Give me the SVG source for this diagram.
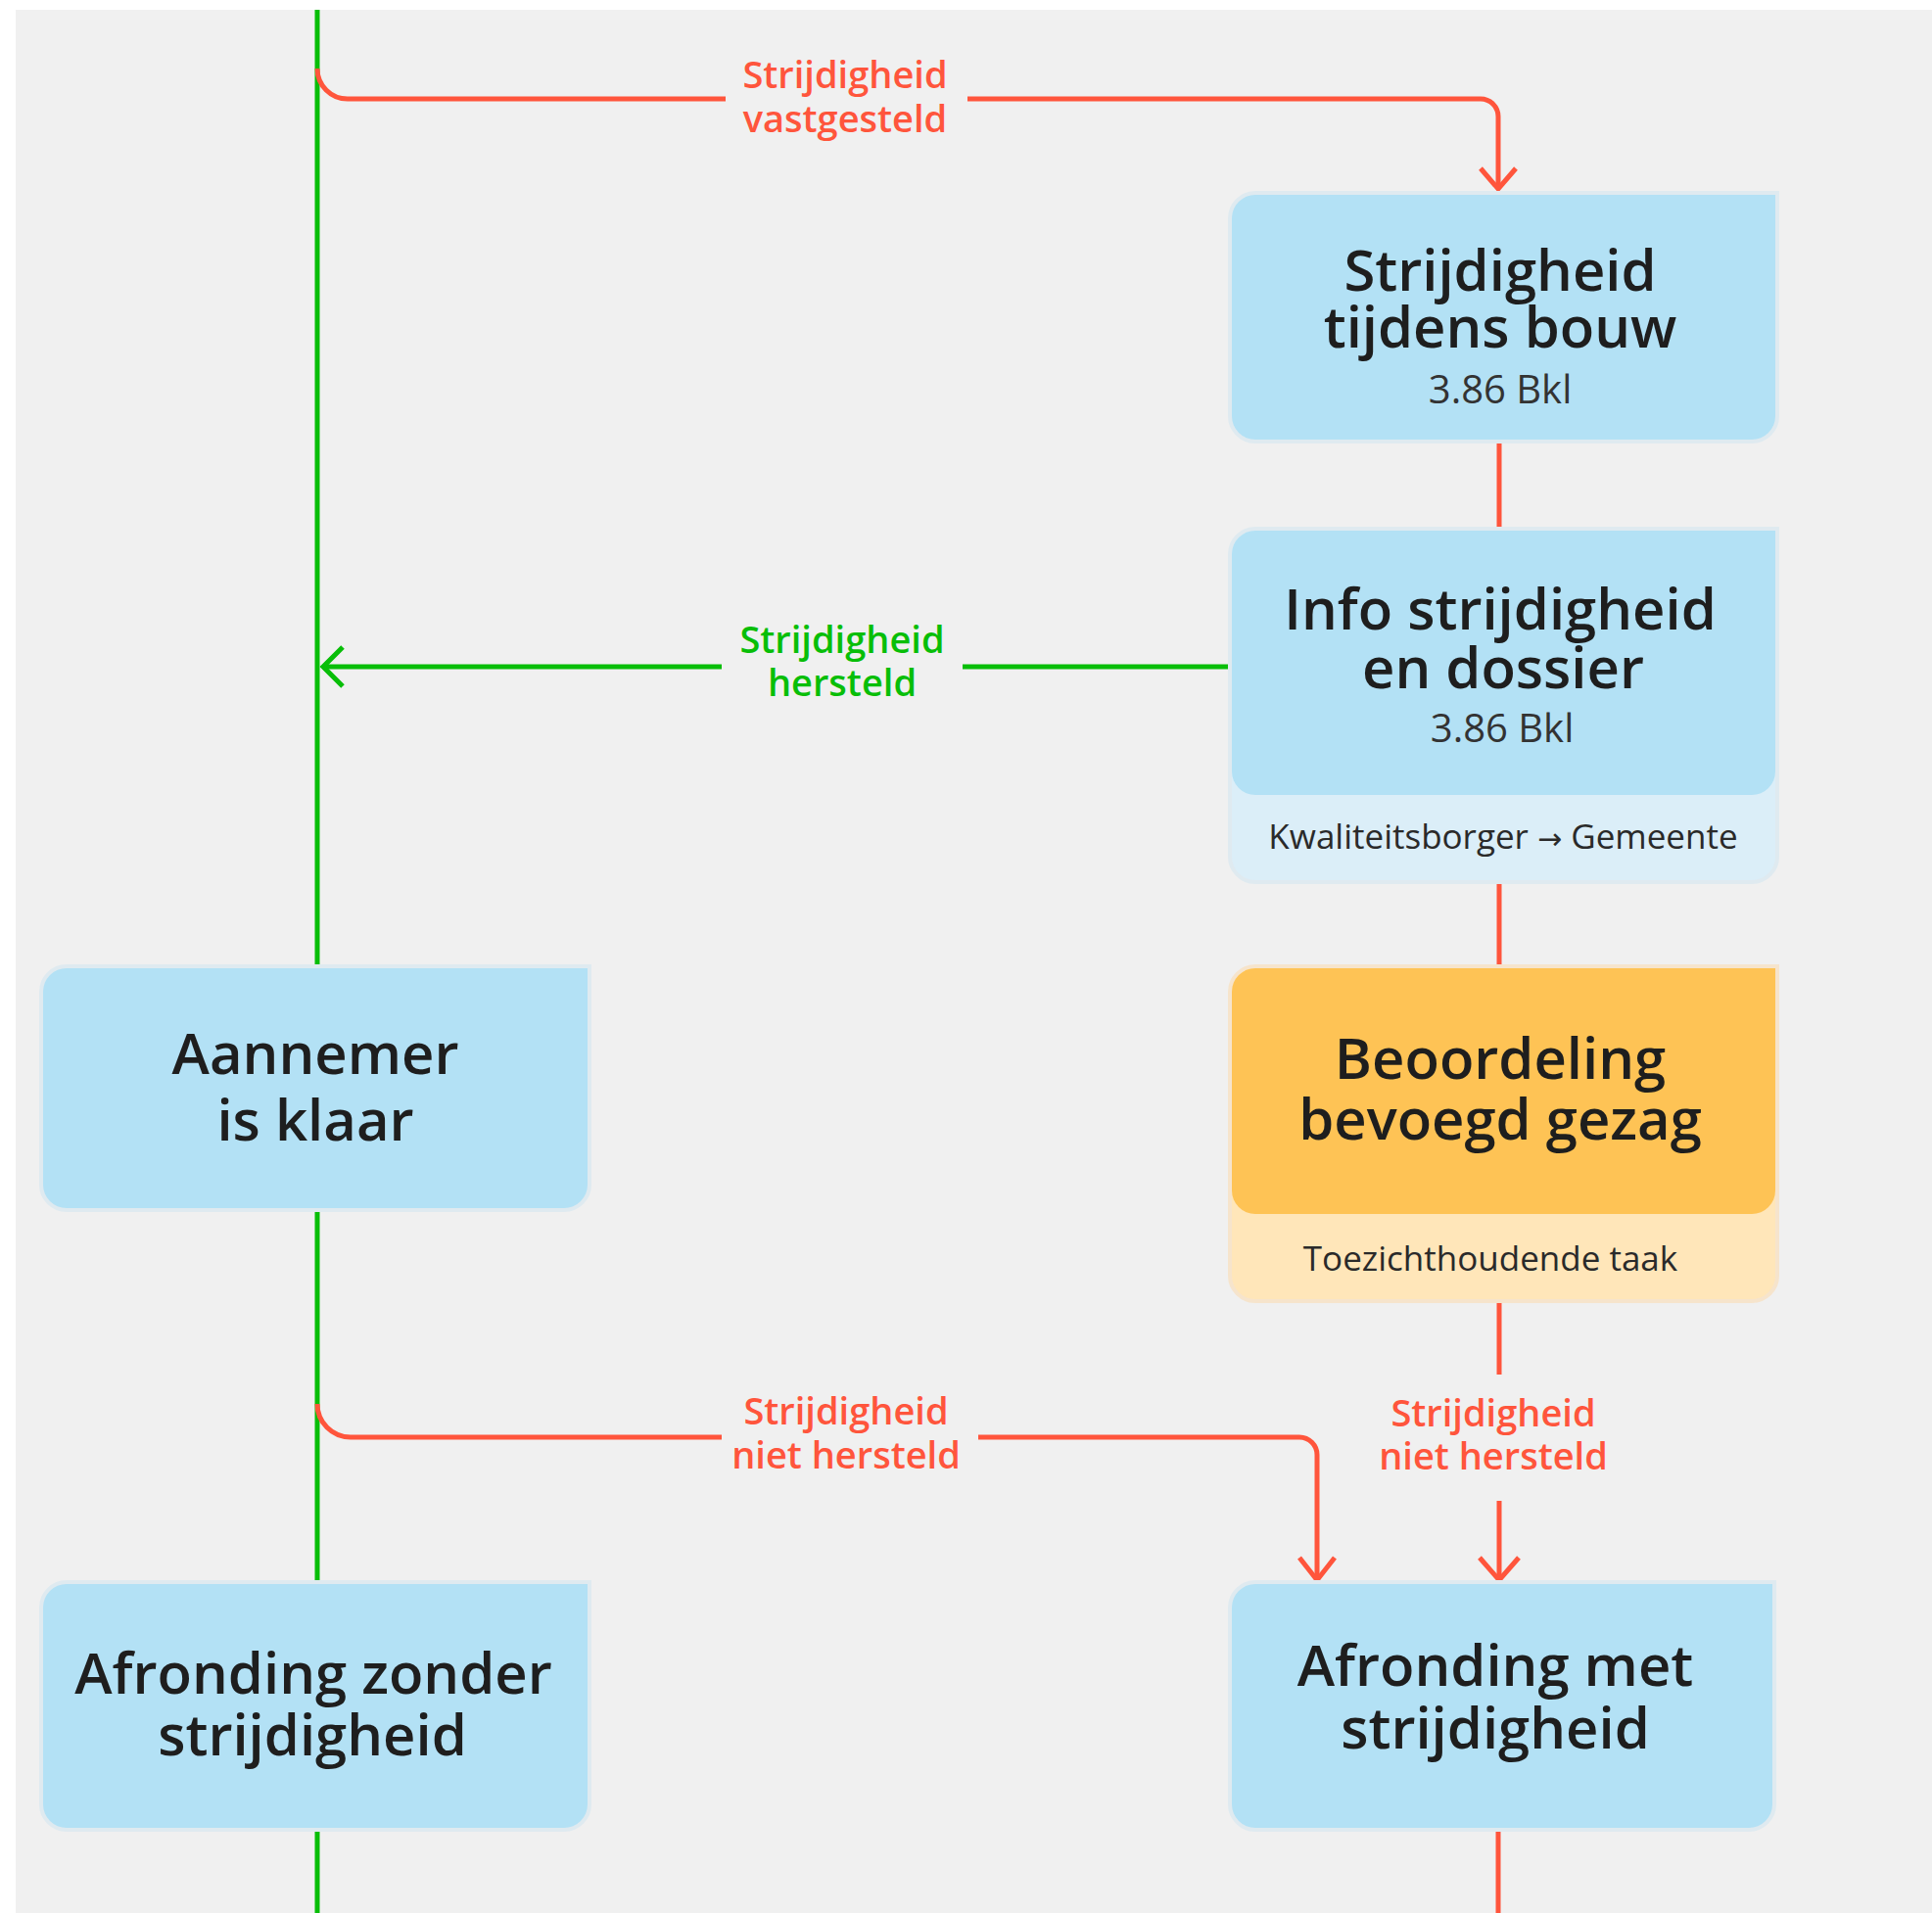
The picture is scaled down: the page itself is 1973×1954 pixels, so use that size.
<svg xmlns="http://www.w3.org/2000/svg" width="1973" height="1954" viewBox="0 0 1973 1954">
  <style>
    .red { fill: none; stroke: #ff553c; stroke-width: 5; }
    .green { fill: none; stroke: #08be08; stroke-width: 5; }
    .arrow { fill: none; stroke-width: 5; stroke-linejoin: miter; stroke-linecap: butt; }
    .lbl { font-family: "Open Sans", "Liberation Sans", sans-serif; font-size: 38px; font-weight: 600; text-anchor: middle; }
    .lbl-red { fill: #ff553c; }
    .lbl-green { fill: #08be08; }
    .title { font-family: "Open Sans", "Liberation Sans", sans-serif; font-size: 58px; font-weight: 600; fill: #1e1e1e; text-anchor: middle; }
    .code { font-size: 40px; font-weight: 400; fill: #333333; }
    .sub { font-family: "Open Sans", "Liberation Sans", sans-serif; font-size: 35px; font-weight: 400; fill: #2a2a2a; text-anchor: middle; }
    .arr { font-family: "DejaVu Sans", sans-serif; font-size: 30px; }
    .blue { fill: #b3e1f5; }
    .blueband { fill: #dbeef8; }
    .orange { fill: #fec355; }
    .orangeband { fill: #ffe6b9; }
    .edge-blue { stroke: #dfeaf0; stroke-width: 8; paint-order: stroke; }
    .edge-orange { stroke: #f6e4cc; stroke-width: 8; paint-order: stroke; }
  </style>
  <rect x="0" y="0" width="1973" height="1954" fill="#ffffff"/>
  <rect x="16" y="10" width="1957" height="1944" fill="#f0f0f0"/>

  <g id="connectors">
    <!-- green trunk -->
    <line class="green" x1="324" y1="10" x2="324" y2="1954"/>
    <!-- Strijdigheid vastgesteld -->
    <path class="red" d="M 324 70 A 31 31 0 0 0 355 101 H 741 M 988 101 H 1512 A 18 18 0 0 1 1530 119 V 192"/>
    <polyline class="arrow" stroke="#ff553c" points="1512,172 1530,193 1548,172"/>
    <text class="lbl lbl-red" x="863" y="90">Strijdigheid<tspan x="863" dy="45">vastgesteld</tspan></text>
    <!-- N1 -> N2 -->
    <line class="red" x1="1531" y1="450" x2="1531" y2="542"/>
    <!-- Strijdigheid hersteld -->
    <path class="green" d="M 1258 681 H 983 M 737 681 H 332"/>
    <polyline class="arrow" stroke="#08be08" points="350,661 330,681 350,701"/>
    <text class="lbl lbl-green" x="860" y="667">Strijdigheid<tspan x="860" dy="44">hersteld</tspan></text>
    <!-- N2 -> N3 -->
    <line class="red" x1="1531" y1="900" x2="1531" y2="989"/>
    <!-- N3 -> Afronding met -->
    <path class="red" d="M 1531 1328 V 1404 M 1531 1533 V 1612"/>
    <polyline class="arrow" stroke="#ff553c" points="1511,1591 1531,1614 1551,1591"/>
    <text class="lbl lbl-red" x="1525" y="1457">Strijdigheid<tspan x="1525" dy="44">niet hersteld</tspan></text>
    <!-- trunk -> Afronding met -->
    <path class="red" d="M 324 1434 A 34 34 0 0 0 358 1468 H 737 M 999 1468 H 1327 A 18 18 0 0 1 1345 1486 V 1612"/>
    <polyline class="arrow" stroke="#ff553c" points="1327,1591 1345,1614 1363,1591"/>
    <text class="lbl lbl-red" x="864" y="1455">Strijdigheid<tspan x="864" dy="45">niet hersteld</tspan></text>
    <!-- below Afronding met -->
    <line class="red" x1="1530" y1="1867" x2="1530" y2="1954"/>
  </g>

  <g id="node-strijdigheid-tijdens-bouw">
    <path class="blue edge-blue" d="M 1282 199 H 1813 V 425 A 24 24 0 0 1 1789 449 H 1282 A 24 24 0 0 1 1258 425 V 223 A 24 24 0 0 1 1282 199 Z"/>
    <text class="title" x="1532" y="297">Strijdigheid<tspan x="1532" dy="58">tijdens bouw</tspan><tspan class="code" x="1532" dy="57">3.86 Bkl</tspan></text>
  </g>

  <g id="node-info-strijdigheid">
    <path class="blueband edge-blue" d="M 1282 542 H 1813 V 875 A 24 24 0 0 1 1789 899 H 1282 A 24 24 0 0 1 1258 875 V 566 A 24 24 0 0 1 1282 542 Z"/>
    <path class="blue" d="M 1282 542 H 1813 V 788 A 24 24 0 0 1 1789 812 H 1282 A 24 24 0 0 1 1258 788 V 566 A 24 24 0 0 1 1282 542 Z"/>
    <text class="title" x="1532" y="643">Info strijdigheid<tspan x="1535" dy="60">en dossier</tspan><tspan class="code" x="1534" dy="55">3.86 Bkl</tspan></text>
    <text class="sub" x="1535" y="867">Kwaliteitsborger <tspan class="arr">→</tspan> Gemeente</text>
  </g>

  <g id="node-beoordeling">
    <path class="orangeband edge-orange" d="M 1282 989 H 1813 V 1303 A 24 24 0 0 1 1789 1327 H 1282 A 24 24 0 0 1 1258 1303 V 1013 A 24 24 0 0 1 1282 989 Z"/>
    <path class="orange" d="M 1282 989 H 1813 V 1216 A 24 24 0 0 1 1789 1240 H 1282 A 24 24 0 0 1 1258 1216 V 1013 A 24 24 0 0 1 1282 989 Z"/>
    <text class="title" x="1532" y="1102">Beoordeling<tspan x="1532" dy="62">bevoegd gezag</tspan></text>
    <text class="sub" x="1522" y="1298">Toezichthoudende taak</text>
  </g>

  <g id="node-aannemer-klaar">
    <path class="blue edge-blue" d="M 68 989 H 600 V 1210 A 24 24 0 0 1 576 1234 H 68 A 24 24 0 0 1 44 1210 V 1013 A 24 24 0 0 1 68 989 Z"/>
    <text class="title" x="322" y="1097">Aannemer<tspan x="322" dy="68">is klaar</tspan></text>
  </g>

  <g id="node-afronding-zonder">
    <path class="blue edge-blue" d="M 68 1618 H 600 V 1843 A 24 24 0 0 1 576 1867 H 68 A 24 24 0 0 1 44 1843 V 1642 A 24 24 0 0 1 68 1618 Z"/>
    <text class="title" x="320" y="1730">Afronding zonder<tspan x="319" dy="63">strijdigheid</tspan></text>
  </g>

  <g id="node-afronding-met">
    <path class="blue edge-blue" d="M 1282 1618 H 1810 V 1843 A 24 24 0 0 1 1786 1867 H 1282 A 24 24 0 0 1 1258 1843 V 1642 A 24 24 0 0 1 1282 1618 Z"/>
    <text class="title" x="1527" y="1722">Afronding met<tspan x="1527" dy="64">strijdigheid</tspan></text>
  </g>
</svg>
